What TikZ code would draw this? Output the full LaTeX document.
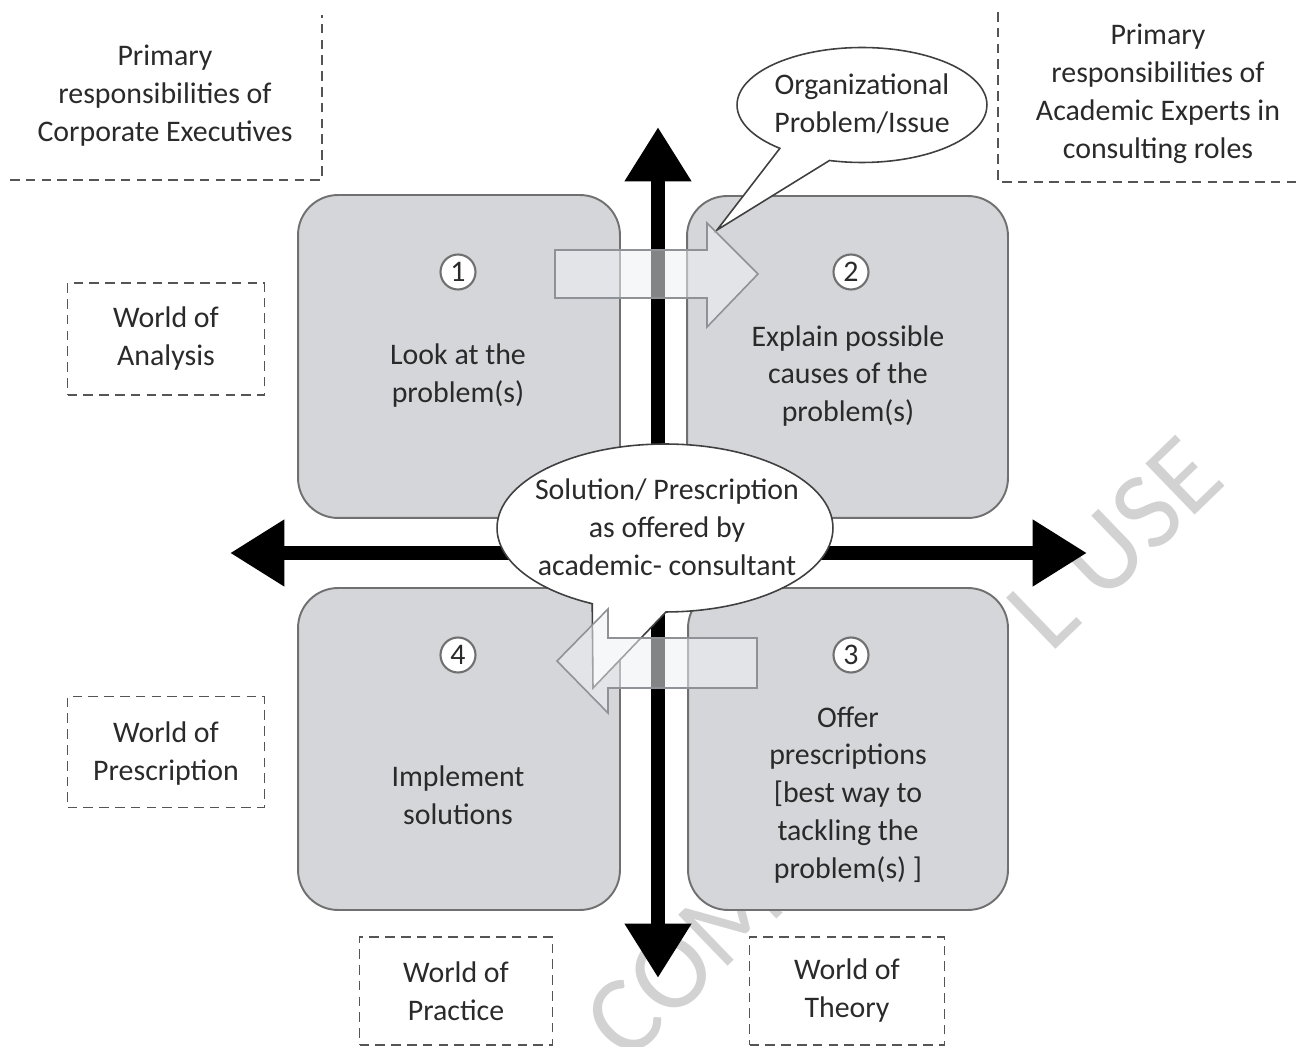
\documentclass[tikz,border=0pt]{standalone}
\usepackage{fontspec}
\setmainfont{Carlito}
\usetikzlibrary{arrows.meta,shapes.callouts,shapes.geometric}
\definecolor{boxfill}{HTML}{D4D6D9}
\definecolor{boxline}{HTML}{707070}
\definecolor{txt}{HTML}{2A2A2A}
\definecolor{dashc}{HTML}{555555}
\definecolor{arrfill}{HTML}{EEF1F3}
\definecolor{arrline}{HTML}{8E9296}
\definecolor{wm}{HTML}{D2D2D2}
\begin{document}
\begin{tikzpicture}[x=0.02cm,y=-0.02cm,
  every node/.style={font=\fontsize{17}{21.6}\selectfont, text=txt},
  quad/.style={draw=boxline, line width=1.1pt, fill=boxfill, rounded corners=0.8cm, inner sep=0pt},
  num/.style={circle, draw=boxline, line width=1.2pt, fill=white, minimum size=0.7cm, inner sep=0pt, font=\fontsize{17}{17}\selectfont},
  lbl/.style={align=center, inner sep=0pt},
  dbox/.style={draw=dashc, line width=1pt, dash pattern=on 5.5pt off 3.5pt, inner sep=0pt},
  dline/.style={draw=dashc, line width=1pt, dash pattern=on 5.5pt off 3.5pt},
  axis/.style={line width=8pt, {Triangle[width=36pt,length=31pt]}-{Triangle[width=36pt,length=31pt]}},
  bubble/.style={ellipse callout, draw=black!75, line width=0.9pt, fill=white, inner sep=0pt},
  blockarrow/.style={draw=arrline, line width=0.9pt, fill=arrfill, fill opacity=0.55},
  wmark/.style={rotate=44, text=wm, inner sep=0pt, font=\fontsize{63}{63}\selectfont},
]
\useasboundingbox (0,0) rectangle (1303,1047);
% watermark (visible parts)
\node[wmark] (wm1) at (684,960) {COM};
\node[wmark] (wm2) at (1115,543) {L USE};

% top labels
\draw[dline] (10,180) -- (322,180) -- (322,15);
\node[lbl] (tl) at (165,96) {Primary\\responsibilities of\\Corporate Executives};
\draw[dline] (998,12) -- (998,182) -- (1300,182);
\node[lbl] (tr) at (1158,94) {Primary\\responsibilities of\\Academic Experts in\\consulting roles};

% side and bottom dashed boxes
\node[dbox, minimum width=3.94cm, minimum height=2.24cm] (wa) at (166,339) {};
\node[lbl] (wat) at (166,339) {World of\\Analysis};
\node[dbox, minimum width=3.94cm, minimum height=2.22cm] (wp) at (166,752) {};
\node[lbl] (wpt) at (166,754) {World of\\Prescription};
\node[dbox, minimum width=3.86cm, minimum height=2.16cm] (wpr) at (456,991) {};
\node[lbl] (wprt) at (456,991) {World of\\Practice};
\node[dbox, minimum width=3.9cm, minimum height=2.16cm] (wth) at (847,991) {};
\node[lbl] (wtht) at (847,991) {World of\\Theory};

% quadrant boxes
\node[quad, minimum width=6.44cm, minimum height=6.46cm] (q1) at (459,356.5) {};
\node[quad, minimum width=6.42cm, minimum height=6.44cm] (q2) at (847.5,357) {};
\node[quad, minimum width=6.44cm, minimum height=6.44cm] (q4) at (459,749) {};
\node[quad, minimum width=6.4cm, minimum height=6.44cm] (q3) at (848,749) {};

% axes
\coordinate (vt) at (658,127);
\coordinate (vb) at (658,978);
\coordinate (hl) at (230,553);
\coordinate (hr) at (1087,553);
\draw[axis] (vt) -- (vb);
\draw[axis] (hl) -- (hr);

% numbers and texts
\node[num] (n1) at (458,272) {1};
\node[num] (n2) at (851,272) {2};
\node[num] (n4) at (458,655) {4};
\node[num] (n3) at (851,655) {3};
\node[lbl] (t1) at (458,376) {Look at the\\problem(s)};
\node[lbl] (t2) at (848,376) {Explain possible\\causes of the\\problem(s)};
\node[lbl] (t4) at (458,795) {Implement\\solutions};
\node[lbl] (t3) at (848,795) {Offer\\prescriptions\\{[}best way to\\tackling the\\problem(s) ]};

% bubbles
\coordinate (orgtip) at (717,230);
\node[bubble, minimum width=5cm, minimum height=2.3cm, callout absolute pointer={(orgtip)}, callout pointer arc=26] (org) at (862,105) {};
\node[lbl] (orgt) at (862,104) {Organizational\\Problem/Issue};
\coordinate (soltip) at (593,688);
\node[bubble, minimum width=6.72cm, minimum height=3.36cm, callout absolute pointer={(soltip)}, callout pointer arc=26] (sol) at (665,528) {};
\node[lbl] (solt) at (667,527) {Solution/ Prescription\\as offered by\\academic- consultant};

% block arrows
\draw[blockarrow] (555,250) -- (707,250) -- (707,223) -- (758,274) -- (707,327) -- (707,298) -- (555,298) -- cycle;
\draw[blockarrow] (757,638) -- (608,638) -- (608,609) -- (557,661) -- (608,713) -- (608,688) -- (757,688) -- cycle;
\end{tikzpicture}
\end{document}
